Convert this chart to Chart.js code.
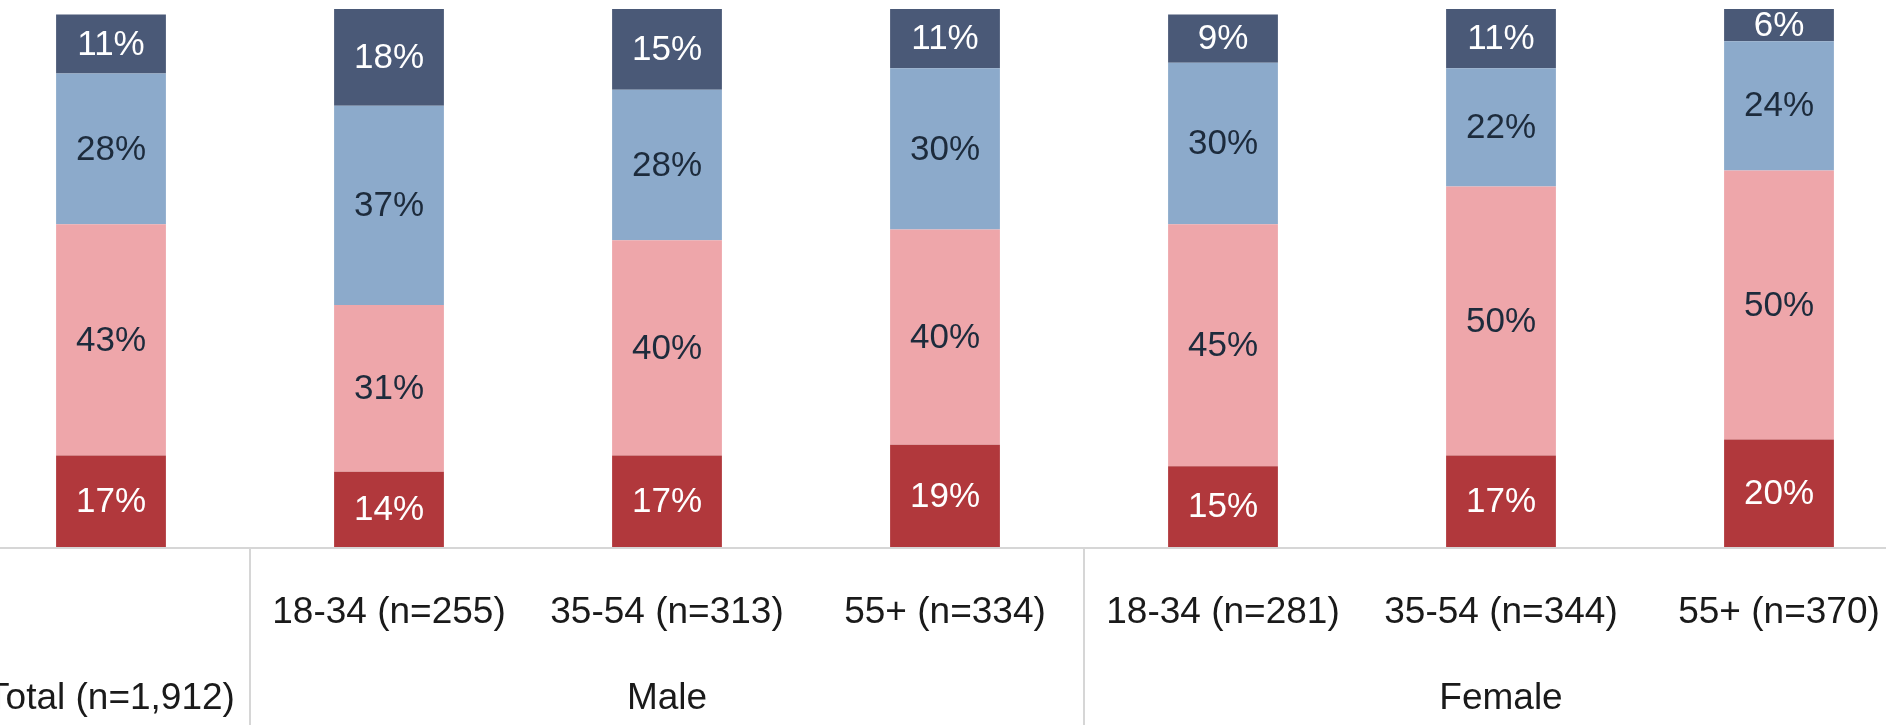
<!DOCTYPE html>
<html>
<head>
<meta charset="utf-8">
<script src="https://cdn.jsdelivr.net/npm/chart.js@4"></script>
<style>
  html, body { margin: 0; padding: 0; background: #fff; overflow: hidden; }
  #wrap { position: absolute; left: -28px; top: 0; width: 1946px; height: 725px; }
</style>
</head>
<body>
<div id="wrap"><canvas id="chart"></canvas></div>
<script>
const categories = ['Total (n=1,912)', '18-34 (n=255)', '35-54 (n=313)', '55+ (n=334)',
  '18-34 (n=281)', '35-54 (n=344)', '55+ (n=370)'];
const groups = [
  { label: 'Total (n=1,912)', from: 0, to: 0 },
  { label: 'Male', from: 1, to: 3 },
  { label: 'Female', from: 4, to: 6 }
];
// stacked from bottom to top
const darkRed = [17, 14, 17, 19, 15, 17, 20];
const pink = [43, 31, 40, 40, 45, 50, 50];
const lightBlue = [28, 37, 28, 30, 30, 22, 24];
const navy = [11, 18, 15, 11, 9, 11, 6];

const FONT = '"Liberation Sans", Arial, sans-serif';

const labelsPlugin = {
  id: 'segLabels',
  afterDatasetsDraw(chart) {
    const ctx = chart.ctx;
    ctx.save();
    ctx.font = '35px ' + FONT;
    ctx.textAlign = 'center';
    ctx.textBaseline = 'middle';
    chart.data.datasets.forEach((ds, i) => {
      const meta = chart.getDatasetMeta(i);
      ctx.fillStyle = ds.textColor;
      meta.data.forEach((bar, j) => {
        const y = (bar.y + bar.base) / 2;
        ctx.fillText(ds.data[j] + '%', bar.x, y + 1);
      });
    });
    ctx.restore();
  }
};

const axisPlugin = {
  id: 'groupAxis',
  afterDraw(chart) {
    const ctx = chart.ctx;
    const x = chart.scales.x;
    const bottom = chart.chartArea.bottom;
    const step = x.getPixelForValue(1) - x.getPixelForValue(0);
    ctx.save();
    ctx.strokeStyle = '#d6d6d6';
    ctx.lineWidth = 2;
    ctx.beginPath();
    ctx.moveTo(0, bottom + 1);
    ctx.lineTo(chart.width, bottom + 1);
    [1, 4].forEach(i => {
      const bx = x.getPixelForValue(i) - step / 2;
      ctx.moveTo(bx, bottom + 1);
      ctx.lineTo(bx, chart.height);
    });
    ctx.stroke();

    ctx.fillStyle = '#1a1a1a';
    ctx.font = '37px ' + FONT;
    ctx.textAlign = 'center';
    ctx.textBaseline = 'middle';
    categories.forEach((c, i) => {
      if (i === 0) return;
      ctx.fillText(c, x.getPixelForValue(i), 613);
    });
    groups.forEach(g => {
      const cx = (x.getPixelForValue(g.from) + x.getPixelForValue(g.to)) / 2;
      ctx.fillText(g.label, cx, 699);
    });
    ctx.restore();
  }
};

new Chart(document.getElementById('chart'), {
  type: 'bar',
  data: {
    labels: categories,
    datasets: [
      { label: 'Dark red', data: darkRed, backgroundColor: '#b1383c', textColor: '#ffffff' },
      { label: 'Pink', data: pink, backgroundColor: '#eea6aa', textColor: '#1d2b3c' },
      { label: 'Light blue', data: lightBlue, backgroundColor: '#8caacb', textColor: '#1d2b3c' },
      { label: 'Navy', data: navy, backgroundColor: '#4a5977', textColor: '#ffffff' }
    ]
  },
  options: {
    responsive: true,
    maintainAspectRatio: false,
    animation: false,
    layout: { padding: { top: 9, bottom: 178, left: 0, right: 0 } },
    datasets: { bar: { categoryPercentage: 1, barPercentage: 0.395 } },
    plugins: { legend: { display: false }, tooltip: { enabled: false } },
    scales: {
      x: { stacked: true, display: false },
      y: { stacked: true, display: false, min: 0, max: 100 }
    }
  },
  plugins: [labelsPlugin, axisPlugin]
});
</script>
</body>
</html>
